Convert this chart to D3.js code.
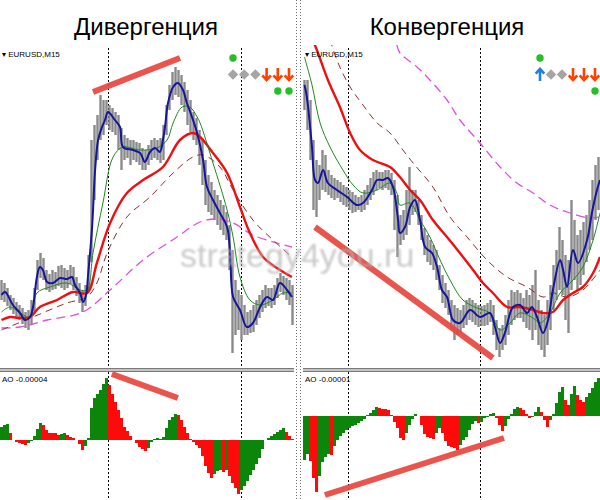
<!DOCTYPE html>
<html>
<head>
<meta charset="utf-8">
<script src="https://cdn.jsdelivr.net/npm/d3@7"></script>
<style>
    body { margin: 0; background: #fff; }
    svg { display: block; }
</style>
</head>
<body>
<svg id="chart" width="600" height="500"></svg>
<script>
// ---- Left panel: Дивергенция (EURUSD M15), price in points above base ----
let leftHigh = [87,84,79,72,69,65,62,59,55,57, 67,79,107,114,109,97,93,97,95,101,
    102,99,97,102,100,90,84,77,82,112, 227,242,252,272,267,267,262,259,255,252,
    239,232,229,227,227,225,224,219,217,222, 227,229,227,229,242,262,282,295,300,297,
    292,285,277,267,255,249,237,227,207,192, 185,177,172,167,162,155,142,117,87,77,
    72,62,55,57,62,67,72,77,82,79, 79,82,89,94,91,89,87,82];
let leftLow = [67,65,61,57,53,49,47,43,39,37, 42,55,77,89,87,77,75,77,78,81,
    79,77,79,83,77,71,64,55,61,77, 105,167,207,227,232,242,237,235,232,217,
    197,207,209,202,207,205,202,197,197,202, 207,209,207,204,207,232,257,267,272,270,
    262,255,242,235,227,222,202,182,162,155, 152,147,142,137,132,127,97,14,32,37,
    27,32,32,34,35,42,49,55,59,61, 59,62,69,75,72,67,62,42];
let leftAO = [13,15,16,7,0,-2,-3,-4,-5,-3, -1,4,11,17,15,10,7,7,7,5,
    6,7,5,3,2,0,-4,-10,-6,2, 32,42,46,50,56,62,55,46,38,30,
    22,13,9,4,0,-3,-7,-9,-11,-8, -2,1,2,1,3,12,20,23,26,25,
    20,13,7,1,-2,-5,-8,-16,-26,-33, -38,-34,-31,-30,-32,-30,-36,-43,-48,-54,
    -50,-46,-41,-35,-30,-24,-18,-9,0,2, 4,6,8,10,12,8,4,1];

// moving averages as [bar, price]
let leftFast = [[0,72],[1.2,75],[3.8,62],[6.2,54],[7.8,47],[9.5,50],[10.5,60],[11.8,90],[12.8,100],[13.8,97],
    [15.2,85],[17.2,84],[19.5,89],[21.8,88],[23.5,90],[24.5,82],[26.2,74],[27.2,65],[28.2,72],[28.8,90],
    [30.2,140],[31.2,197],[32.2,227],[33.5,240],[34.5,247],[35.5,255],[37.8,247],[39.5,240],[40.5,220],[43.8,217],
    [46.2,214],[47.8,205],[49.5,215],[51.2,219],[52.8,215],[53.8,227],[54.5,240],[55.5,264],[57.2,280],[58.8,284],
    [60.5,277],[61.8,264],[63.5,250],[65.2,234],[67.2,207],[68.5,180],[70.5,167],[72.8,154],[75.2,140],[76.2,114],
    [77.2,70],[79.5,57],[81.8,40],[83.8,44],[86.2,60],[88.5,70],[90.5,67],[92.8,84],[95.2,77],[96.8,70]];
let leftGreen = [[0,55],[2.8,60],[6.2,54],[9.5,50],[11.8,74],[16.2,80],[21.8,84],[26.2,77],[28.5,77],[30.5,114],
    [33.8,164],[37.2,210],[40.5,220],[46.2,217],[51.8,219],[55.2,227],[57.2,244],[60.2,260],[62.8,260],[65.2,250],
    [66.2,244],[70.5,204],[75.2,157],[77.2,130],[79.5,90],[82.8,67],[86.2,62],[90.5,67],[93.8,74],[96.8,74]];
let leftRed = [[0,47],[2.8,50],[6.2,49],[9.5,50],[12.8,60],[18.5,67],[23.8,75],[28.5,74],[31.8,104],[36.2,144],
    [41.8,174],[47.2,187],[53.8,200],[59.5,227],[63.8,234],[66.2,230],[70.5,214],[75.2,194],[79.5,160],[82.8,134],
    [87.2,110],[91.8,99],[96.8,90]];
let leftBrown = [[0,37],[10.5,50],[21.8,64],[28.5,70],[31.8,84],[35.2,114],[41.8,150],[49.5,170],[57.2,194],[63.8,210],
    [67.2,212],[72.8,200],[77.2,177],[83.8,147],[90.5,127],[96.8,110]];
let leftMagenta = [[0,39],[6.2,40],[15.2,47],[27.2,55],[36.2,77],[47.2,107],[58.5,130],[66.2,145],[71.8,148],[77.2,144],
    [83.8,132],[91.8,124],[96.8,120]];

let leftSessions = [35.5, 79.8];
let leftPriceTrend = [[30.5, 275], [59.5, 309]];
let leftAoTrend = [[36.8, 66], [58.8, 42]];

// ---- Right panel: Конвергенция ----
let rightHigh = [287,287,267,227,207,202,217,212,197,192, 189,187,185,182,180,177,175,172,170,172,
    177,182,189,195,197,195,195,197,197,194, 187,172,152,157,177,200,177,177,167,152,
    139,132,127,122,117,102,92,84,77,67, 62,59,57,62,67,69,67,64,62,61,
    62,64,67,62,47,39,42,52,67,77, 75,77,74,69,77,72,82,97,67,57,
    52,67,82,102,117,140,127,112,107,167, 147,132,137,145,152,167,187,202,210];
let rightLow = [257,237,207,157,150,167,177,175,172,169, 167,169,165,162,160,157,154,155,157,155,
    157,162,167,172,177,179,177,179,177,172, 137,110,122,127,132,142,152,155,142,127,
    112,105,102,97,87,77,64,59,52,37, 27,32,34,39,42,47,45,42,40,41,
    41,42,45,32,17,10,17,22,32,42, 47,49,49,45,39,37,27,37,22,17,
    10,22,37,57,67,77,72,47,34,77, 87,77,82,92,105,117,127,147,157];
let rightAO = [-44,-38,-45,-62,-76,-60,-46,-41,-38,-39, -30,-24,-20,-17,-14,-12,-10,-9,-7,-5,
    -3,1,3,6,9,8,7,7,6,1, -6,-12,-22,-24,-17,-9,-3,2,0,-9,
    -18,-21,-22,-23,-17,-12,-17,-25,-30,-31, -32,-34,-29,-24,-21,-14,-8,-5,-7,-6,
    -2,-1,2,3,-2,-9,-15,-10,-3,2, 7,9,8,6,2,-2,-1,4,9,4,
    -4,-11,-4,2,13,24,29,16,11,22, 30,21,16,14,19,23,28,34,38];

let rightFast = [[0,282],[0.5,275],[1.2,260],[2.5,220],[3.5,187],[4.5,184],[6.2,197],[7.8,184],[10.8,177],[14.2,170],
    [17.5,162],[19.5,164],[22.5,177],[24.2,187],[26.2,187],[27.8,189],[29.5,180],[31.2,147],[31.8,134],[33.5,140],
    [35.2,160],[36.8,167],[38.5,147],[40.2,120],[42.5,114],[44.2,100],[45.8,77],[47.5,70],[49.5,47],[51.8,44],
    [55.2,57],[58.5,50],[61.8,54],[63.5,40],[65.2,24],[66.8,34],[69.5,60],[71.8,62],[74.2,54],[75.8,60],
    [77.5,50],[79.5,34],[81.2,47],[82.8,77],[85.2,107],[86.2,97],[87.5,80],[89.5,117],[91.2,104],[94.2,127],
    [95.8,154],[97.5,177],[98.5,187]];
let rightGreen = [[0,310],[2.5,282],[5.2,244],[8.5,220],[12.8,197],[16.2,182],[19.5,174],[24.2,177],[28.5,184],[30.8,174],
    [31.8,162],[35.2,164],[38.5,147],[41.8,130],[45.2,107],[48.5,87],[52.8,67],[57.5,59],[61.8,54],[65.2,37],
    [68.5,44],[71.8,54],[76.2,49],[78.5,44],[81.8,54],[85.2,74],[89.5,87],[92.8,100],[96.2,127],[98.5,154]];
let rightRed = [[2.8,327],[4.5,314],[7.8,287],[11.8,260],[15.2,234],[18.5,217],[22.8,207],[28.5,200],[31.8,190],[35.2,177],
    [38.5,167],[42.8,147],[47.5,130],[51.8,114],[56.2,97],[59.5,84],[62.8,74],[67.5,60],[71.8,60],[76.2,57],
    [79.5,54],[82.8,55],[86.2,67],[89.5,74],[92.8,80],[96.2,94],[98.5,110]];
let rightBrown = [[8.5,327],[11.2,304],[15.2,280],[19.5,262],[24.2,244],[28.5,234],[32.8,217],[36.2,204],[42.8,180],[48.5,150],
    [54.2,130],[60.8,107],[67.5,90],[74.2,80],[79.5,70],[82.8,74],[87.5,70],[92.8,77],[98.5,97]];
let rightMagenta = [[30.8,322],[31.8,314],[37.5,300],[41.8,287],[47.5,267],[51.8,247],[58.5,224],[65.2,200],[70.8,184],[76.2,174],
    [81.8,162],[88.5,154],[95.2,149],[98.5,150]];

let rightSessions = [14.5, 58.5];
let rightPriceTrend = [[3.5, 140], [62.8, 9]];
let rightAoTrend = [[6.8, -79], [66.5, -22]];

// signal panel rows (columns left to right)
let leftSignalRows = [
    ["dot", null, null, null, null, null],
    ["diamond", "diamond", "diamond", "down", "down", "down"],
    [null, null, null, null, "dot", "dot"]
];
let rightSignalRows = [
    ["dot", null, null, null, null, null],
    ["up", "diamond", "diamond", "down", "down", "down"],
    [null, null, null, null, null, "dot"]
];

let svg = d3.select("#chart");
let defs = svg.append("defs");
defs.append("filter").attr("id", "soft")
    .append("feGaussianBlur").attr("stdDeviation", 0.9);

function drawPanel(p) {
    let x = d3.scaleLinear().domain([0, p.highs.length - 1]).range(p.xRange);
    let y = d3.scaleLinear().domain([0, 322]).range([367, 45]);
    let ao = d3.scaleLinear().domain(p.aoDomain).range([500, 372]);

    defs.append("clipPath").attr("id", "price-" + p.name)
        .append("rect").attr("x", p.clip[0]).attr("y", 45)
        .attr("width", p.clip[1] - p.clip[0]).attr("height", 322);
    defs.append("clipPath").attr("id", "ao-" + p.name)
        .append("rect").attr("x", p.clip[0]).attr("y", 373)
        .attr("width", p.clip[1] - p.clip[0]).attr("height", 127);

    let g = svg.append("g");

    // session separators
    g.selectAll(".session")
        .data(p.sessions).enter()
        .append("line")
        .attr("x1", d => Math.round(x(d)) + 0.5)
        .attr("x2", d => Math.round(x(d)) + 0.5)
        .attr("y1", 48).attr("y2", 500)
        .attr("stroke", "#000")
        .attr("stroke-dasharray", "2,2");

    let price = g.append("g").attr("clip-path", "url(#price-" + p.name + ")");

    // bars
    price.selectAll(".bar")
        .data(p.highs).enter()
        .append("line")
        .attr("x1", (d, i) => x(i))
        .attr("x2", (d, i) => x(i))
        .attr("y1", d => y(d))
        .attr("y2", (d, i) => y(p.lows[i]))
        .attr("stroke", "#8a8a8a")
        .attr("stroke-width", 2.4);

    let line = d3.line()
        .x(d => x(d[0]))
        .y(d => y(d[1]))
        .curve(d3.curveCatmullRom);

    price.append("path").attr("d", line(p.magenta))
        .attr("fill", "none").attr("stroke", "#dd4fdd").attr("stroke-width", 1.3)
        .attr("stroke-dasharray", "9,5");
    price.append("path").attr("d", line(p.brown))
        .attr("fill", "none").attr("stroke", "#8e2f2f").attr("stroke-width", 1)
        .attr("stroke-dasharray", "7,5");
    price.append("path").attr("d", line(p.red))
        .attr("fill", "none").attr("stroke", "#ee1010").attr("stroke-width", 2.4);
    price.append("path").attr("d", line(p.green))
        .attr("fill", "none").attr("stroke", "#1f8a1f").attr("stroke-width", 1);
    price.append("path").attr("d", line(p.fast))
        .attr("fill", "none").attr("stroke", "#16169a").attr("stroke-width", 2);

    // AO histogram
    let aoG = g.append("g").attr("clip-path", "url(#ao-" + p.name + ")");
    aoG.selectAll(".ao")
        .data(p.ao).enter()
        .append("rect")
        .attr("x", (d, i) => x(i) - 1.5)
        .attr("width", 3.05)
        .attr("y", d => Math.min(ao(d), ao(0)))
        .attr("height", d => Math.abs(ao(d) - ao(0)))
        .attr("fill", (d, i) => (i === 0 || d > p.ao[i - 1]) ? "#0b860b" : "#ff0a0a");

    // horizontal divider between windows
    g.append("rect").attr("x", p.clip[0]).attr("y", 368)
        .attr("width", p.clip[1] - p.clip[0]).attr("height", 4).attr("fill", "#c4c4c4");
    g.selectAll(".div")
        .data([368.5, 371.5]).enter()
        .append("line")
        .attr("x1", p.clip[0]).attr("x2", p.clip[1])
        .attr("y1", d => d).attr("y2", d => d)
        .attr("stroke", "#7a7a7a");

    // trend annotations
    let trend = g.append("g")
        .attr("stroke", "#e8473e")
        .attr("stroke-width", 6)
        .attr("opacity", 0.92);
    trend.append("line")
        .attr("x1", x(p.priceTrend[0][0])).attr("y1", y(p.priceTrend[0][1]))
        .attr("x2", x(p.priceTrend[1][0])).attr("y2", y(p.priceTrend[1][1]));
    trend.append("line")
        .attr("x1", x(p.aoTrend[0][0])).attr("y1", ao(p.aoTrend[0][1]))
        .attr("x2", x(p.aoTrend[1][0])).attr("y2", ao(p.aoTrend[1][1]));

    // texts
    g.append("text")
        .attr("x", p.titleX).attr("y", 35)
        .attr("text-anchor", "middle")
        .attr("font-family", "Liberation Sans, Arial, sans-serif")
        .attr("font-size", 24)
        .text(p.title);
    g.append("text")
        .attr("x", p.clip[0] + 2).attr("y", 57)
        .attr("font-family", "Liberation Sans, Arial, sans-serif")
        .attr("font-size", 8)
        .text("▾ EURUSD,M15");
    g.append("text")
        .attr("x", p.clip[0] + 2).attr("y", 382)
        .attr("font-family", "Liberation Sans, Arial, sans-serif")
        .attr("font-size", 8)
        .text(p.aoLabel);

    // signals
    let cols = d3.scalePoint().domain(d3.range(6)).range(p.signalX);
    let rows = d3.scalePoint().domain(d3.range(3)).range([58, 91]);
    p.signals.forEach((row, r) => {
        row.forEach((kind, c) => {
            if (!kind) return;
            let s = g.append("g").attr("transform", "translate(" + cols(c) + "," + rows(r) + ")");
            if (kind === "dot") {
                s.append("circle").attr("r", 3.7).attr("fill", "#23c023");
            } else if (kind === "diamond") {
                s.append("rect").attr("x", -3.7).attr("y", -3.7)
                    .attr("width", 7.4).attr("height", 7.4)
                    .attr("transform", "rotate(45)").attr("fill", "#a5a5a5");
            } else if (kind === "down") {
                s.append("path").attr("d", "M0,-6.5V5M-4.3,0.8L0,5.6L4.3,0.8")
                    .attr("fill", "none").attr("stroke", "#ff4000").attr("stroke-width", 2.6);
            } else if (kind === "up") {
                s.append("path").attr("d", "M0,6.5V-5M-4.3,-0.8L0,-5.6L4.3,-0.8")
                    .attr("fill", "none").attr("stroke", "#1f7fe6").attr("stroke-width", 2.6);
            }
        });
    });
}

drawPanel({
    name: "left", title: "Дивергенция", titleX: 146, aoLabel: "AO -0.00004",
    xRange: [1.5, 292.5], clip: [0, 294], aoDomain: [-60, 68],
    highs: leftHigh, lows: leftLow, ao: leftAO,
    fast: leftFast, green: leftGreen, red: leftRed, brown: leftBrown, magenta: leftMagenta,
    sessions: leftSessions, priceTrend: leftPriceTrend, aoTrend: leftAoTrend,
    signals: leftSignalRows, signalX: [233, 289]
});
drawPanel({
    name: "right", title: "Конвергенция", titleX: 447, aoLabel: "AO -0.00001",
    xRange: [304.5, 598.5], clip: [303, 600], aoDomain: [-84, 44],
    highs: rightHigh, lows: rightLow, ao: rightAO,
    fast: rightFast, green: rightGreen, red: rightRed, brown: rightBrown, magenta: rightMagenta,
    sessions: rightSessions, priceTrend: rightPriceTrend, aoTrend: rightAoTrend,
    signals: rightSignalRows, signalX: [540, 595]
});

// window separators
svg.selectAll(".sep")
    .data([296.5, 300.5]).enter()
    .append("line")
    .attr("x1", d => d).attr("x2", d => d)
    .attr("y1", 0).attr("y2", 500)
    .attr("stroke", "#6e6e6e")
    .attr("stroke-dasharray", "1,2");

// watermark
svg.append("text")
    .attr("x", 180).attr("y", 267)
    .attr("font-family", "Liberation Sans, Arial, sans-serif")
    .attr("font-size", 34)
    .attr("fill", "#b4b4b4")
    .attr("opacity", 0.7)
    .attr("filter", "url(#soft)")
    .text("strategy4you.ru");
</script>
</body>
</html>
